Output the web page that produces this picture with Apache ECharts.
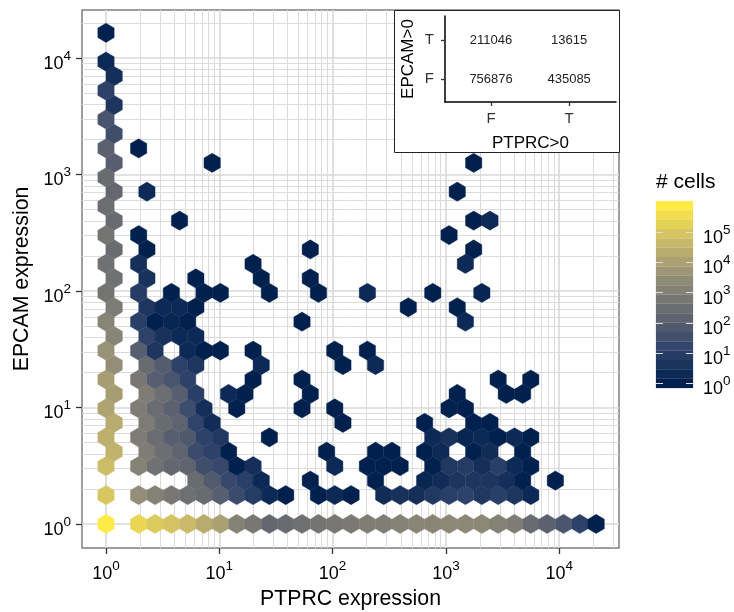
<!DOCTYPE html>
<html>
<head>
<meta charset="utf-8">
<style>html,body{margin:0;padding:0;background:#fff}#c{width:734px;height:612px}</style>
<script src="https://cdn.jsdelivr.net/npm/echarts@6/dist/echarts.min.js"></script>
</head>
<body>
<div id="c"></div>
<script>
// log10 centres of the hexagonal bins
const binLogPTPRC = [0,.072,.144,.216,.288,.361,.433,.505,.577,.649,.721,.793,.865,.937,1.009,1.082,1.154,1.226,1.298,1.370,1.442,1.514,1.586,1.658,1.730,1.803,1.875,1.947,2.019,2.091,2.163,2.235,2.307,2.379,2.451,2.524,2.596,2.668,2.740,2.812,2.884,2.956,3.028,3.100,3.172,3.245,3.317,3.389,3.461,3.533,3.605,3.677,3.749,3.821,3.893,3.966,4.038,4.110,4.182,4.254,4.326];
const binLogEPCAM = [0,.124,.248,.372,.496,.62,.744,.868,.992,1.116,1.24,1.364,1.488,1.612,1.736,1.86,1.984,2.108,2.232,2.356,2.48,2.604,2.728,2.852,2.976,3.1,3.224,3.348,3.472,3.596,3.72,3.844,3.968,4.092,4.216];
// each row: [PTPRC bin, log10 of cell count]
const row00 = [[0,5.88],[4,5.4],[6,5.1],[8,4.9],[10,4.7],[12,4.3],[14,4.0],[16,3.1],[18,2.8],[20,2.3],[22,2.4],[24,2.55],[26,2.7],[28,2.8],[30,2.85],[32,3.0],[34,3.0],[36,3.1],[38,3.2],[40,3.2],[42,3.3],[44,3.3],[46,3.3],[48,3.1],[50,2.95],[52,2.4],[54,2.1],[56,1.75],[58,1.1],[60,0]];
const row02 = [[0,5.0],[4,3.5],[6,3.1],[8,2.8],[10,2.55],[12,2.4],[14,2.0],[16,1.4],[18,0.9],[20,0.3],[22,0],[26,0],[28,0.3],[30,0],[34,0.4],[36,0.6],[38,0.5],[40,0.8],[42,1.0],[44,1.1],[46,0.8],[48,1.0],[50,0.7],[52,0.3]];
const row03 = [[11,2.4],[13,1.9],[15,1.3],[17,1.0],[19,0.3],[25,0],[33,0],[39,0.2],[41,0.4],[43,0.7],[45,0.7],[47,0.7],[49,0.5],[51,0],[55,0]];
const row04 = [[0,4.75],[4,3.1],[6,2.6],[8,2.3],[10,2.2],[12,1.5],[14,1.3],[16,0],[18,0.5],[28,0.3],[32,0],[34,0],[36,0],[40,0],[42,0.8],[44,0.9],[46,0.5],[48,1.0],[50,0.3],[52,0]];
const row05 = [[1,4.5],[5,2.95],[7,2.5],[9,2.2],[11,1.4],[13,1.1],[15,0],[27,0],[33,0],[35,0],[39,0],[41,0.3],[45,0],[47,0.4],[51,0]];
const row06 = [[0,4.4],[4,2.95],[6,2.45],[8,2.0],[10,1.85],[12,1.1],[14,0.8],[20,0],[40,0.3],[42,0.6],[44,0.2],[46,0.3],[48,0],[50,0.3],[52,0]];
const row07 = [[1,4.3],[5,2.9],[7,2.4],[9,2.15],[11,1.15],[13,0.4],[29,0],[39,0],[45,0],[47,0]];
const row08 = [[0,4.1],[4,2.95],[6,2.45],[8,2.1],[10,1.45],[12,0.5],[16,0],[24,0],[28,0],[42,0],[44,0]];
const row09 = [[1,3.9],[5,2.95],[7,2.5],[9,2.0],[11,1.0],[15,0.3],[17,0],[25,0],[43,0],[49,0],[51,0]];
const row10 = [[0,3.9],[4,2.8],[6,2.0],[8,1.7],[10,1.1],[18,0],[24,0],[48,0],[52,0]];
const row11 = [[1,3.5],[5,2.4],[7,1.95],[9,1.05],[11,0.7],[19,0.3],[29,0],[33,0.3]];
const row12 = [[0,3.6],[4,2.0],[6,0.7],[10,0.3],[12,0],[14,0],[18,0],[28,0],[32,0]];
const row13 = [[1,3.2],[5,1.1],[7,0.6],[9,0.3],[11,0.3]];
const row14 = [[0,3.2],[4,1.0],[6,0],[8,0.2],[10,0],[24,0],[44,0.3]];
const row15 = [[1,2.9],[5,0.7],[7,0.3],[9,0.3],[11,0],[37,0],[43,0]];
const row16 = [[0,2.7],[4,0.9],[8,0],[12,0],[14,0],[20,0],[26,0],[32,0.3],[40,0],[46,0.2]];
const row17 = [[1,2.6],[5,0.6],[11,0],[19,0],[25,0]];
const row18 = [[0,2.6],[4,0.5],[18,0],[44,0.3]];
const row19 = [[1,2.4],[5,0],[25,0],[45,0]];
const row20 = [[0,2.7],[4,0],[42,0]];
const row21 = [[1,2.4],[9,0],[45,0],[47,0.3]];
const row22 = [[0,2.5]];
const row23 = [[1,2.3],[5,0.3],[43,0]];
const row24 = [[0,2.4]];
const row25 = [[1,2.0],[13,0],[45,0]];
const row26 = [[0,2.1],[4,0]];
const row27 = [[1,1.5]];
const row28 = [[0,1.7]];
const row29 = [[1,0.7]];
const row30 = [[0,1.1]];
const row31 = [[1,0.5]];
const row32 = [[0,0.3]];
const row34 = [[0,0]];
const hexRows = [[0,row00],[2,row02],[3,row03],[4,row04],[5,row05],[6,row06],[7,row07],[8,row08],[9,row09],[10,row10],[11,row11],[12,row12],[13,row13],[14,row14],[15,row15],[16,row16],[17,row17],[18,row18],[19,row19],[20,row20],[21,row21],[22,row22],[23,row23],[24,row24],[25,row25],[26,row26],[27,row27],[28,row28],[29,row29],[30,row30],[31,row31],[32,row32],[34,row34]];

const majorTicks = [1,10,100,1000,10000];
const minorTicksX = [2,3,4,5,6,7,8,9,20,30,40,50,60,70,80,90,200,300,400,500,600,700,800,900,2000,3000,4000,5000,6000,7000,8000,9000,20000,30000];
const minorTicksY = [2,3,4,5,6,7,8,9,20,30,40,50,60,70,80,90,200,300,400,500,600,700,800,900,2000,3000,4000,5000,6000,7000,8000,9000,20000];

const insetLabels = ['F','T'];
const insetCounts = [[0,1,'211046'],[1,1,'13615'],[0,0,'756876'],[1,0,'435085']];

const legendLevels = [0,.309,.619,.928,1.238,1.547,1.857,2.166,2.476,2.785,3.095,3.404,3.714,4.023,4.333,4.642,4.952,5.261,5.571,5.88];
const legendTicks = [0,1,2,3,4,5];
const cividis = ['#00204D','#31446B','#666970','#958F78','#CBBA69','#FFEA46'];

const FONT = 'Liberation Sans';
const HALF_W = 0.0721, ROW_H = 0.124;

const hexData = [];
hexRows.forEach(function (pair) {
  pair[1].forEach(function (cell) {
    hexData.push([Math.pow(10, binLogPTPRC[cell[0]]), Math.pow(10, binLogEPCAM[pair[0]]), cell[1]]);
  });
});

function powLabel(exp) { return '{b|10}{s|' + exp + '}'; }
const powRich = {
  b: { fontFamily: FONT, fontSize: 18, color: '#000', verticalAlign: 'bottom', lineHeight: 24 },
  s: { fontFamily: FONT, fontSize: 13.5, color: '#000', verticalAlign: 'top', lineHeight: 9 }
};

function renderHex(params, api) {
  const lx = Math.log10(api.value(0)), ly = Math.log10(api.value(1));
  const offs = [[0, 2/3], [1, 1/3], [1, -1/3], [0, -2/3], [-1, -1/3], [-1, 1/3]];
  const pts = offs.map(function (o) {
    return api.coord([Math.pow(10, lx + o[0] * HALF_W), Math.pow(10, ly + o[1] * ROW_H)]);
  });
  const c = api.visual('color');
  return { type: 'polygon', shape: { points: pts }, style: { fill: c, stroke: c, lineWidth: 0.4 } };
}

const chart = echarts.init(document.getElementById('c'), null, { renderer: 'canvas' });
chart.setOption({
  animation: false,
  backgroundColor: '#fff',
  title: { text: '# cells', left: 651, top: 167, textStyle: { fontFamily: FONT, fontSize: 21, fontWeight: 'normal', color: '#000' } },
  visualMap: { show: false, type: 'continuous', min: 0, max: 5.88, dimension: 2, seriesIndex: [0, 2], inRange: { color: cividis } },
  graphic: [{ type: 'rect', z: 10, shape: { x: 394.5, y: 10.5, width: 225, height: 142 }, style: { fill: '#fff', stroke: '#222', lineWidth: 1 } }],
  grid: [
    { left: 82, right: 115, top: 10, bottom: 64, outerBoundsMode: 'none', show: true, borderColor: '#7f7f7f', borderWidth: 1.5, backgroundColor: '#fff' },
    { left: 445, width: 171, top: 16, height: 86, z: 20, outerBoundsMode: 'none' },
    { left: 656, width: 37, top: 201, height: 187, outerBoundsMode: 'none' }
  ],
  xAxis: [
    { type: 'log', gridIndex: 0, min: 0.614, max: 33700, name: 'PTPRC expression', nameLocation: 'middle', nameGap: 41,
      nameTextStyle: { fontFamily: FONT, fontSize: 21.3, color: '#000' },
      axisLine: { show: false }, axisTick: { customValues: majorTicks, length: 6, lineStyle: { color: '#333', width: 1.3 } },
      axisLabel: { customValues: majorTicks, margin: 11, formatter: function (v) { return powLabel(Math.round(Math.log10(v))); }, rich: powRich },
      splitLine: { show: true, lineStyle: { color: '#d9d9d9', width: 1.6 } } },
    { type: 'log', gridIndex: 0, min: 0.614, max: 33700, position: 'top', axisLine: { show: false },
      axisTick: { show: false, customValues: minorTicksX }, axisLabel: { show: false, customValues: minorTicksX },
      splitLine: { show: true, lineStyle: { color: '#dcdcdc', width: 1 } } },
    { type: 'value', gridIndex: 1, min: -0.59, max: 1.6, z: 20, name: 'PTPRC>0', nameLocation: 'middle', nameGap: 33,
      nameTextStyle: { fontFamily: FONT, fontSize: 17, color: '#000' },
      axisLine: { onZero: false, lineStyle: { color: '#000', width: 1.5 } },
      axisTick: { customValues: [0, 1], length: 4, lineStyle: { color: '#333', width: 1.3 } },
      axisLabel: { customValues: [0, 1], margin: 9, fontFamily: FONT, fontSize: 15, color: '#333', formatter: function (v) { return insetLabels[v]; } },
      splitLine: { show: false } },
    { type: 'value', gridIndex: 2, min: 0, max: 1, show: false }
  ],
  yAxis: [
    { type: 'log', gridIndex: 0, min: 0.622, max: 25800, name: 'EPCAM expression', nameLocation: 'middle', nameGap: 45,
      nameTextStyle: { fontFamily: FONT, fontSize: 21.3, color: '#000' },
      axisLine: { show: false }, axisTick: { customValues: majorTicks, length: 6, lineStyle: { color: '#333', width: 1.3 } },
      axisLabel: { customValues: majorTicks, margin: 11, padding: [6, 0, 0, 0], formatter: function (v) { return powLabel(Math.round(Math.log10(v))); }, rich: powRich },
      splitLine: { show: true, lineStyle: { color: '#d9d9d9', width: 1.6 } } },
    { type: 'log', gridIndex: 0, min: 0.622, max: 25800, position: 'right', axisLine: { show: false },
      axisTick: { show: false, customValues: minorTicksY }, axisLabel: { show: false, customValues: minorTicksY },
      splitLine: { show: true, lineStyle: { color: '#dcdcdc', width: 1 } } },
    { type: 'value', gridIndex: 1, min: -0.59, max: 1.615, z: 20, name: 'EPCAM>0', nameLocation: 'middle', nameGap: 28,
      nameTextStyle: { fontFamily: FONT, fontSize: 17, color: '#000' },
      axisLine: { onZero: false, lineStyle: { color: '#000', width: 1.5 } },
      axisTick: { customValues: [0, 1], length: 4, lineStyle: { color: '#333', width: 1.3 } },
      axisLabel: { customValues: [0, 1], margin: 11, fontFamily: FONT, fontSize: 15, color: '#333', formatter: function (v) { return insetLabels[v]; } },
      splitLine: { show: false } },
    { type: 'value', gridIndex: 2, position: 'left', min: -0.155, max: 6.035, z: 10, axisLine: { show: false },
      axisTick: { inside: true, customValues: legendTicks, length: 7, lineStyle: { color: '#ddd', width: 1 } },
      axisLabel: { show: false, customValues: legendTicks }, splitLine: { show: false } },
    { type: 'value', gridIndex: 2, position: 'right', min: -0.155, max: 6.035, z: 10, axisLine: { show: false },
      axisTick: { inside: true, customValues: legendTicks, length: 7, lineStyle: { color: '#ddd', width: 1 } },
      axisLabel: { customValues: legendTicks, inside: false, margin: 10, padding: [6, 0, 0, 0], formatter: function (v) { return powLabel(v); }, rich: powRich },
      splitLine: { show: false } }
  ],
  series: [
    { type: 'custom', xAxisIndex: 0, yAxisIndex: 0, coordinateSystem: 'cartesian2d', data: hexData, encode: { x: 0, y: 1 }, renderItem: renderHex, z: 3, silent: true },
    { type: 'custom', xAxisIndex: 2, yAxisIndex: 2, coordinateSystem: 'cartesian2d', data: insetCounts, z: 20, silent: true,
      encode: { x: 0, y: 1 },
      renderItem: function (params, api) {
        const p = api.coord([api.value(0), api.value(1)]);
        return { type: 'text', x: p[0], y: p[1], style: { text: insetCounts[params.dataIndex][2], fontFamily: FONT, fontSize: 13, fill: '#222', textAlign: 'center', textVerticalAlign: 'middle' } };
      } },
    { type: 'custom', xAxisIndex: 3, yAxisIndex: 3, coordinateSystem: 'cartesian2d', silent: true, z: 3,
      data: legendLevels.map(function (l) { return [0, l, l]; }), encode: { x: 0, y: 1 },
      renderItem: function (params, api) {
        const l = api.value(1), half = 0.1548;
        const a = api.coord([0, l + half]), b = api.coord([1, l - half]);
        const c = api.visual('color');
        return { type: 'rect', shape: { x: a[0], y: a[1], width: b[0] - a[0], height: b[1] - a[1] }, style: { fill: c, stroke: c, lineWidth: 0.2 } };
      } }
  ]
});
</script>
</body>
</html>
